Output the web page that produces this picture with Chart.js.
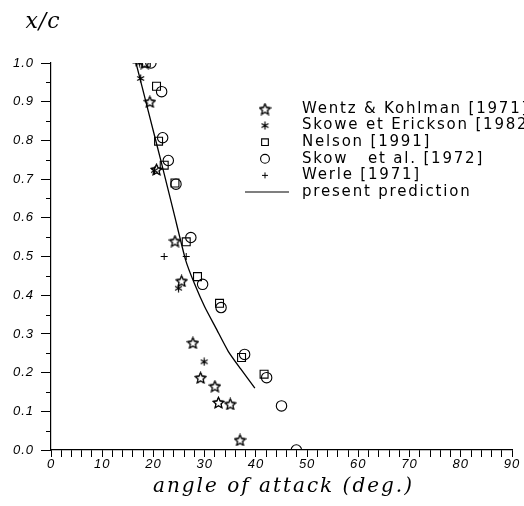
<!DOCTYPE html>
<html>
<head>
<meta charset="utf-8">
<script src="https://cdn.jsdelivr.net/npm/chart.js@4"></script>
<style>
  html, body { margin: 0; padding: 0; background: #fff; }
  #wrap { width: 524px; height: 506px; position: relative; }
</style>
</head>
<body>
<div id="wrap"><canvas id="vortexChart"></canvas></div>
<script>
// --- data (angle of attack in deg, x/c) ---
const wentzAoa = [18.3, 19.3, 20.6, 24.2, 25.5, 27.7, 29.2, 32.0, 32.7, 35.0, 36.9];
const wentzXc  = [1.0, 0.90, 0.725, 0.54, 0.437, 0.277, 0.187, 0.165, 0.123, 0.119, 0.026];

const skoweAoa = [17.3, 17.5, 20.2, 24.9, 29.9];
const skoweXc  = [1.0, 0.96, 0.722, 0.418, 0.228];

const nelsonAoa = [18.6, 20.6, 21.0, 22.1, 24.2, 26.4, 28.6, 32.9, 37.2, 41.6];
const nelsonXc  = [1.0, 0.94, 0.798, 0.736, 0.69, 0.538, 0.448, 0.379, 0.239, 0.196];

const skowAoa = [19.5, 21.6, 21.8, 22.9, 24.4, 27.3, 29.6, 33.2, 37.8, 42.1, 45.0, 47.9];
const skowXc  = [1.0, 0.926, 0.807, 0.748, 0.687, 0.549, 0.428, 0.368, 0.247, 0.187, 0.114, 0.0];

const werleAoa = [16.6, 22.1, 26.4];
const werleXc  = [1.0, 0.50, 0.50];

const predAoa = [16.6, 19.0, 21.5, 24.0, 26.3, 28.0, 30.0, 32.2, 34.6, 37.0, 39.8];
const predXc  = [1.0, 0.875, 0.745, 0.612, 0.49, 0.43, 0.37, 0.315, 0.255, 0.21, 0.16];

const seriesLabels = [
  "Wentz & Kohlman [1971]",
  "Skowe et Erickson [1982]",
  "Nelson [1991]",
  "Skow   et al. [1972]",
  "Werle [1971]",
  "present prediction",
];

const INK = "#000";

const toPoints = (xs, ys) => xs.map((x, i) => ({ x: x, y: ys[i] }));

// hollow five point star
function makeStar(size) {
  const c = document.createElement("canvas");
  c.width = c.height = size;
  const g = c.getContext("2d");
  const cx = size / 2, cy = size / 2 + 0.6;
  const ro = size / 2 - 0.8, ri = ro * 0.48;
  g.beginPath();
  for (let i = 0; i < 10; i++) {
    const r = i % 2 === 0 ? ro : ri;
    const a = -Math.PI / 2 + (i * Math.PI) / 5;
    const px = cx + r * Math.cos(a), py = cy + r * Math.sin(a);
    if (i === 0) g.moveTo(px, py); else g.lineTo(px, py);
  }
  g.closePath();
  g.strokeStyle = "#000";
  g.lineWidth = 1.1;
  g.stroke();
  g.stroke(); // second pass darkens the thin antialiased outline
  return c;
}

// six armed asterisk
function makeAsterisk(size) {
  const c = document.createElement("canvas");
  c.width = c.height = size;
  const g = c.getContext("2d");
  const cx = size / 2, cy = size / 2, r = size / 2 - 0.5;
  g.strokeStyle = "#000";
  g.lineWidth = 1.2;
  g.beginPath();
  [90, 30, 150].forEach((deg) => {
    const a = (deg * Math.PI) / 180;
    g.moveTo(cx - r * Math.cos(a), cy - r * Math.sin(a));
    g.lineTo(cx + r * Math.cos(a), cy + r * Math.sin(a));
  });
  g.stroke();
  return c;
}

const starImg = makeStar(13);
const asteriskImg = makeAsterisk(9);

// wide plotter-like lettering for the tick labels
const spacingPlugin = {
  id: "spacing",
  beforeDraw(chart) { chart.ctx.letterSpacing = "1px"; },
  afterDraw(chart) { chart.ctx.letterSpacing = "0px"; },
};

// minor y ticks, titles and the in-plot legend
const extrasPlugin = {
  id: "extras",
  afterDraw(chart) {
    const { ctx, chartArea, scales } = chart;
    const y = scales.y;
    ctx.save();
    ctx.strokeStyle = INK;
    ctx.lineWidth = 1;
    for (let v = 0.05; v < 1; v += 0.1) {
      const py = Math.round(y.getPixelForValue(v)) + 0.5;
      ctx.beginPath();
      ctx.moveTo(chartArea.left - 5, py);
      ctx.lineTo(chartArea.left, py);
      ctx.stroke();
    }

    ctx.fillStyle = INK;
    ctx.textBaseline = "middle";
    ctx.textAlign = "center";
    ctx.letterSpacing = "1px";
    ctx.font = 'italic 22px "DejaVu Serif"';
    ctx.fillText("x/c", 43, 22);

    ctx.letterSpacing = "2px";
    ctx.font = 'italic 20px "DejaVu Serif"';
    ctx.fillText("angle of attack (deg.)", (chartArea.left + chartArea.right) / 2 + 2, 487);

    const markerX = 265, textX = 302, firstY = 109, gap = 16.6;
    ctx.font = '15px "DejaVu Sans"';
    ctx.textAlign = "left";
    ctx.letterSpacing = "1.8px";
    chart.data.datasets.forEach((ds, i) => {
      const ly = firstY + i * gap;
      if (ds.showLine) {
        ctx.beginPath();
        ctx.lineWidth = 1.2;
        ctx.moveTo(245, ly);
        ctx.lineTo(289, ly);
        ctx.stroke();
      } else {
        ctx.save();
        ctx.fillStyle = "rgba(0,0,0,0)";
        ctx.strokeStyle = INK;
        ctx.lineWidth = ds.borderWidth;
        Chart.helpers.drawPoint(ctx, {
          pointStyle: ds.pointStyle,
          radius: ds.pointRadius * 0.85,
          rotation: 0,
          borderWidth: ds.borderWidth,
        }, markerX, ly);
        ctx.restore();
      }
      ctx.fillStyle = INK;
      ctx.fillText(ds.label, textX, ly);
    });
    ctx.restore();
  },
};

const markerBase = {
  showLine: false,
  borderColor: INK,
  backgroundColor: "rgba(0,0,0,0)",
  borderWidth: 1.1,
};

const ctx = document.getElementById("vortexChart").getContext("2d");
const vortexChart = new Chart(ctx, {
  type: "scatter",
  data: {
    datasets: [
      { ...markerBase, label: seriesLabels[0], data: toPoints(wentzAoa, wentzXc), pointStyle: starImg, pointRadius: 6 },
      { ...markerBase, label: seriesLabels[1], data: toPoints(skoweAoa, skoweXc), pointStyle: asteriskImg, pointRadius: 4 },
      { ...markerBase, label: seriesLabels[2], data: toPoints(nelsonAoa, nelsonXc), pointStyle: "rect", pointRadius: 5.6 },
      { ...markerBase, label: seriesLabels[3], data: toPoints(skowAoa, skowXc), pointStyle: "circle", pointRadius: 5.2 },
      { ...markerBase, label: seriesLabels[4], data: toPoints(werleAoa, werleXc), pointStyle: "cross", pointRadius: 3.5, borderWidth: 1 },
      {
        label: seriesLabels[5],
        data: toPoints(predAoa, predXc),
        showLine: true,
        borderColor: INK,
        borderWidth: 1.3,
        pointRadius: 0,
        tension: 0.2,
        fill: false,
      },
    ],
  },
  options: {
    responsive: true,
    maintainAspectRatio: false,
    animation: false,
    layout: { padding: { top: 63, right: 12, left: 0, bottom: 0 } },
    plugins: {
      legend: { display: false },
      tooltip: { enabled: false },
    },
    scales: {
      x: {
        type: "linear",
        min: 0,
        max: 90,
        afterFit: (s) => { s.height = 56; },
        ticks: {
          stepSize: 2,
          autoSkip: false,
          maxRotation: 0,
          padding: 0,
          color: INK,
          font: { family: '"Liberation Sans"', size: 13, style: "italic" },
          callback: (v) => (v % 10 === 0 ? v : ""),
        },
        grid: { drawOnChartArea: false, tickLength: 7, color: INK, tickColor: INK },
        border: { display: true, color: INK, width: 1.2 },
      },
      y: {
        type: "linear",
        min: 0,
        max: 1,
        afterFit: (s) => { s.width = 51; },
        ticks: {
          stepSize: 0.1,
          padding: 7,
          color: INK,
          font: { family: '"Liberation Sans"', size: 13, style: "italic" },
          callback: (v) => Number(v).toFixed(1),
        },
        grid: { drawOnChartArea: false, tickLength: 10, color: INK, tickColor: INK },
        border: { display: true, color: INK, width: 1.2 },
      },
    },
  },
  plugins: [spacingPlugin, extrasPlugin],
});
</script>
</body>
</html>
